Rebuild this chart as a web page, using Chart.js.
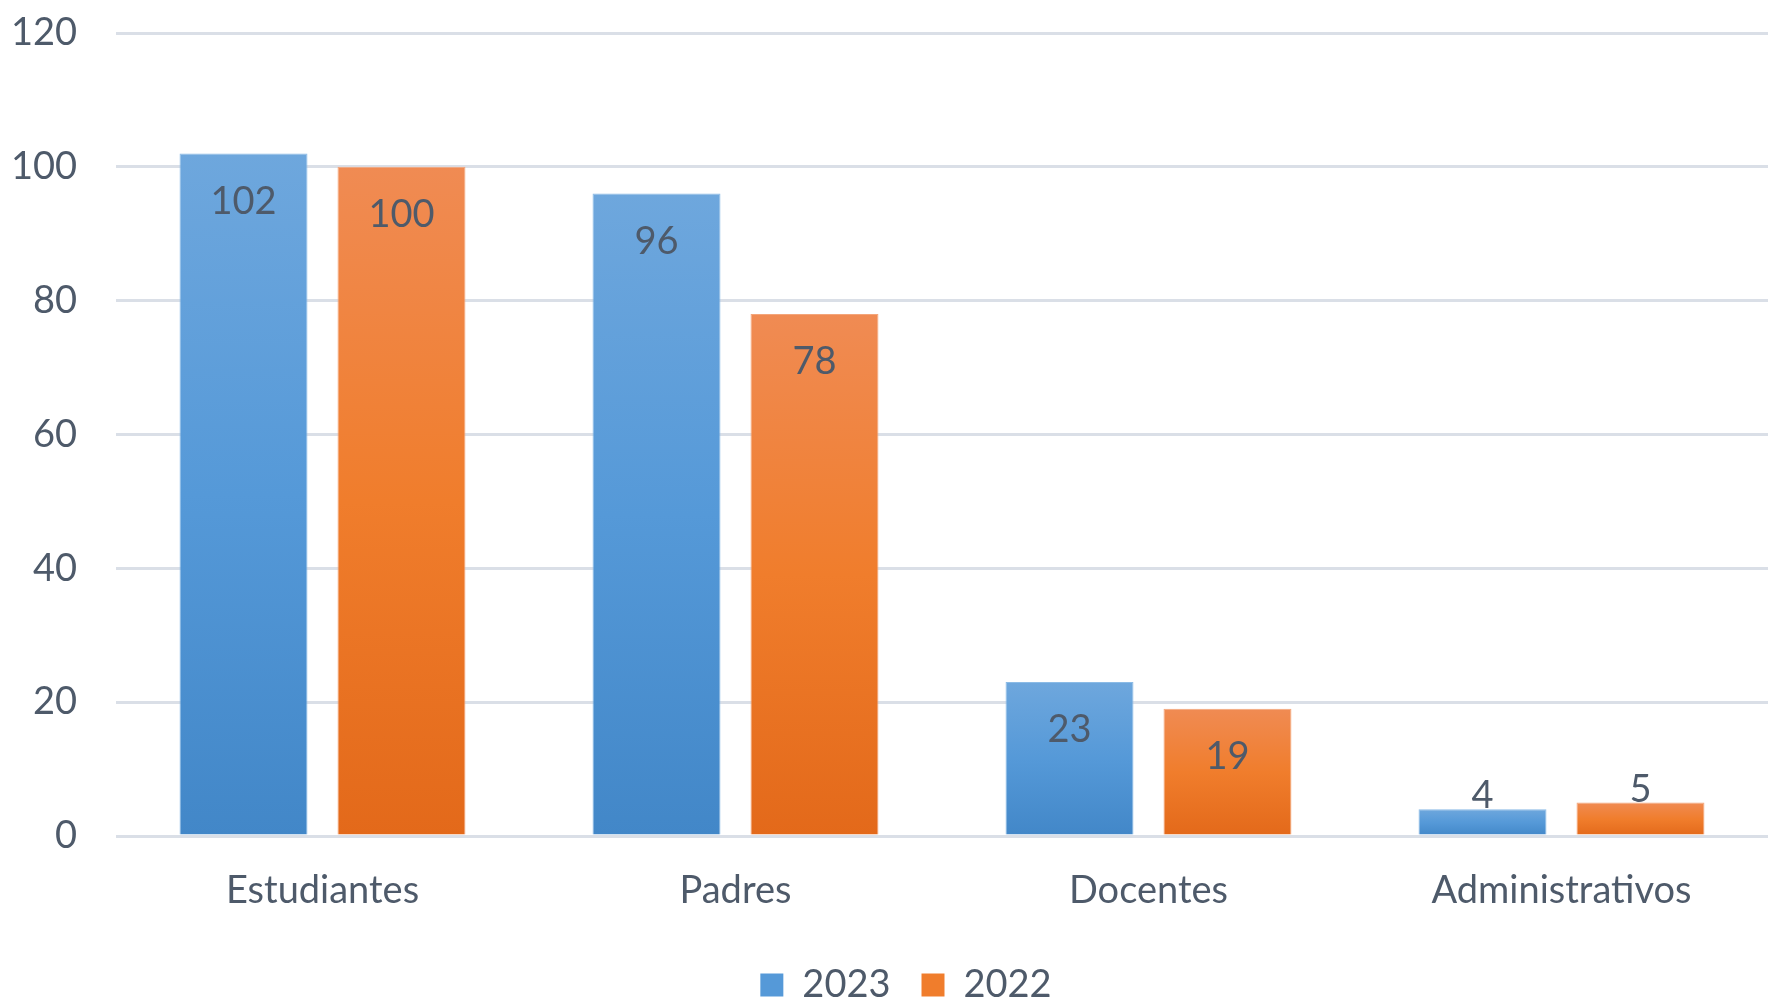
<!DOCTYPE html>
<html lang="es">
<head>
    <meta charset="UTF-8">
    <title>Estudiantes, Padres, Docentes, Administrativos</title>
    <script src="https://cdn.jsdelivr.net/npm/chart.js"></script>
    <style>
        html, body {
            margin: 0;
            padding: 0;
            background: #ffffff;
        }
        #wrap {
            width: 1768px;
            height: 1004px;
        }
    </style>
</head>
<body>
    <div id="wrap"><canvas id="chart" width="1768" height="1004"></canvas></div>

    <script>
        // Data
        const categories = ['Estudiantes', 'Padres', 'Docentes', 'Administrativos'];
        const values2023 = [102, 96, 23, 4];
        const values2022 = [100, 78, 19, 5];
        const seriesNames = ['2023', '2022'];
        const yTicks = [0, 20, 40, 60, 80, 100, 120];

        const TEXT_COLOR = '#4e5a6a';
        const FONT = 'Lato';
        const FONT_SIZE = 38;

        // vertical gradient for every bar, light at top and dark at the base
        function barGradient(light, mid, dark, solid) {
            return (context) => {
                const chart = context.chart;
                const y = chart.scales.y;
                if (context.type !== 'data' || !y || !chart.chartArea) return solid;
                const top = y.getPixelForValue(context.raw);
                const base = y.getPixelForValue(0);
                if (!isFinite(top) || !isFinite(base) || top === base) return solid;
                const g = chart.ctx.createLinearGradient(0, top, 0, base);
                g.addColorStop(0, light);
                g.addColorStop(0.5, mid);
                g.addColorStop(1, dark);
                return g;
            };
        }

        // value labels: inside the top of the bar, above it when the bar is short
        const valueLabels = {
            id: 'valueLabels',
            afterDatasetsDraw(chart) {
                const ctx = chart.ctx;
                ctx.save();
                ctx.font = FONT_SIZE + 'px ' + FONT;
                ctx.fillStyle = TEXT_COLOR;
                ctx.textAlign = 'center';
                ctx.textBaseline = 'middle';
                chart.data.datasets.forEach((ds, i) => {
                    const meta = chart.getDatasetMeta(i);
                    meta.data.forEach((bar, j) => {
                        const h = bar.base - bar.y;
                        const yPos = h > 70 ? bar.y + 48 : bar.y - 13;
                        ctx.fillText(String(ds.data[j]), bar.x, yPos);
                    });
                });
                ctx.restore();
            }
        };

        // the legend sits a little right of the canvas centre in the original
        const legendShift = {
            id: 'legendShift',
            afterLayout(chart) {
                if (chart.legend) {
                    chart.legend.left += 22;
                    chart.legend.right += 22;
                }
            }
        };

        const ctx = document.getElementById('chart').getContext('2d');
        const chart = new Chart(ctx, {
            type: 'bar',
            data: {
                labels: categories,
                datasets: [{
                    label: seriesNames[0],
                    data: values2023,
                    backgroundColor: barGradient('#6ea7dd', '#5599d8', '#4287c8', '#5599d8'),
                    borderColor: '#8bbbe6',
                    borderWidth: 1,
                    categoryPercentage: 0.765,
                    barPercentage: 0.81
                }, {
                    label: seriesNames[1],
                    data: values2022,
                    backgroundColor: barGradient('#f08b53', '#f07d2c', '#e3691a', '#f07d2c'),
                    borderColor: '#f4a57a',
                    borderWidth: 1,
                    categoryPercentage: 0.765,
                    barPercentage: 0.81
                }]
            },
            options: {
                responsive: false,
                animation: false,
                layout: {
                    padding: { top: 33, right: 0, bottom: -10, left: 0 }
                },
                scales: {
                    x: {
                        grid: { display: false, drawTicks: false },
                        border: { display: false },
                        ticks: {
                            color: TEXT_COLOR,
                            font: { family: FONT, size: FONT_SIZE },
                            padding: 32,
                            maxRotation: 0
                        },
                        afterFit(scale) {
                            scale.height = 99;
                        }
                    },
                    y: {
                        min: 0,
                        max: 120,
                        afterBuildTicks(scale) {
                            scale.ticks = yTicks.map(v => ({ value: v }));
                        },
                        grid: {
                            color: '#dadfe7',
                            lineWidth: 3,
                            drawTicks: true,
                            tickLength: 39,
                            tickColor: 'rgba(0,0,0,0)'
                        },
                        border: { display: false },
                        ticks: {
                            color: TEXT_COLOR,
                            font: { family: FONT, size: FONT_SIZE },
                            padding: 0
                        },
                        afterFit(scale) {
                            scale.width = 116;
                        }
                    }
                },
                plugins: {
                    legend: {
                        position: 'bottom',
                        labels: {
                            color: TEXT_COLOR,
                            font: { family: FONT, size: FONT_SIZE },
                            boxWidth: 23,
                            boxHeight: 23,
                            padding: 31,
                            generateLabels(chart) {
                                const fills = ['#5599d8', '#f07d2c'];
                                return chart.data.datasets.map((ds, i) => ({
                                    text: ds.label,
                                    fillStyle: fills[i],
                                    strokeStyle: fills[i],
                                    lineWidth: 0,
                                    fontColor: TEXT_COLOR,
                                    datasetIndex: i
                                }));
                            }
                        }
                    },
                    tooltip: { enabled: false }
                }
            },
            plugins: [valueLabels, legendShift]
        });
    </script>
</body>
</html>
